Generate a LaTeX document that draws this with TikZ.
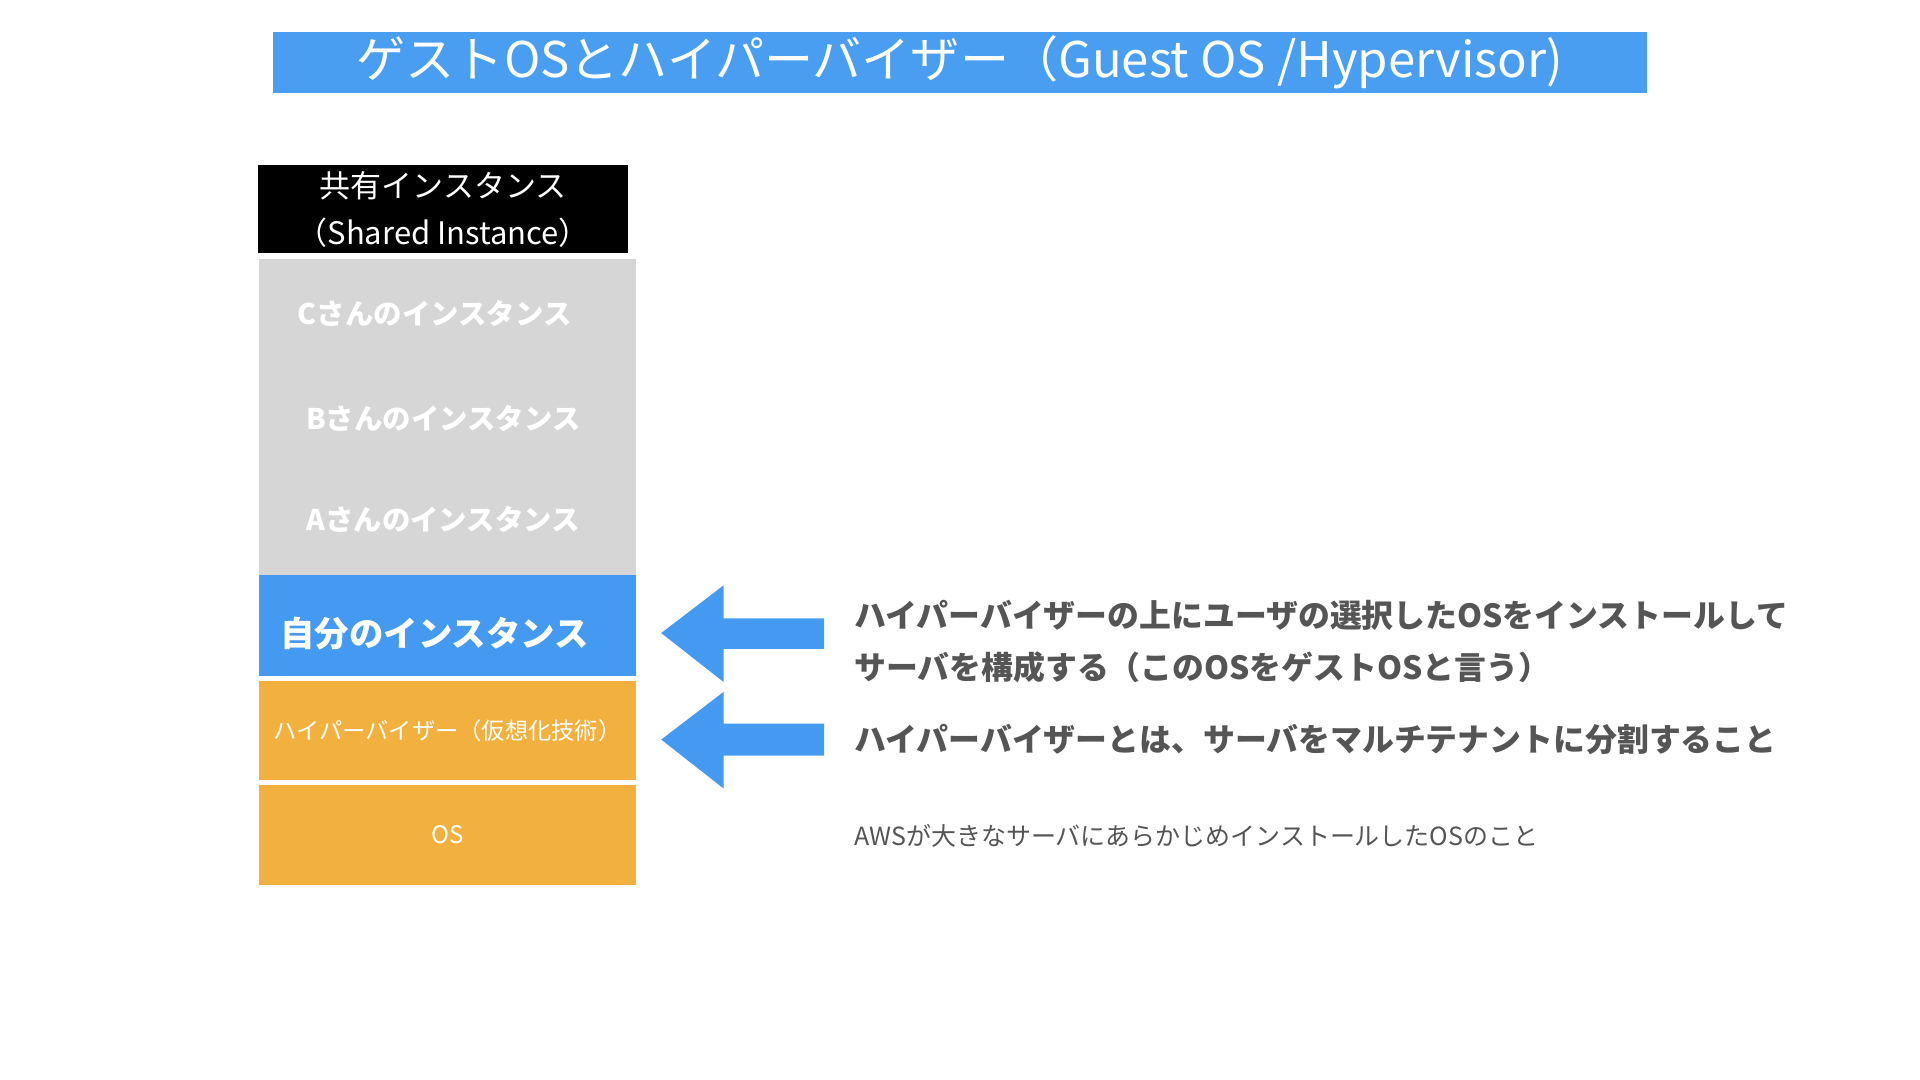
\documentclass[tikz,border=0pt]{standalone}
\usepackage{fontspec}
\setmainfont{Noto Sans CJK JP}
\newfontfamily\jpbold[BoldFont={* Bold}]{Noto Sans CJK JP}
\usepackage{xcolor}
\definecolor{titleblue}{HTML}{4A9EF2}
\definecolor{layerblue}{HTML}{4499F0}
\definecolor{layergray}{HTML}{D6D6D6}
\definecolor{layerorange}{HTML}{F2B13E}
\definecolor{notegray}{HTML}{555555}

\begin{document}
\begin{tikzpicture}[x=0.01cm, y=-0.01cm,
  layer/.style={rectangle, minimum width=3.07cm, inner sep=0pt, text=white},
  note/.style={anchor=west, text=notegray, inner sep=0pt, font=\fontsize{7.4}{10}\selectfont\bfseries},
  arrowfill/.style={fill=layerblue}]
\useasboundingbox (0,0) rectangle (1568,882);

\node (title) [rectangle, fill=titleblue, text=white, minimum width=11.22cm, minimum height=0.5cm, inner sep=0pt, font=\fontsize{11.4}{12}\selectfont] at (784,51) {ゲストOSとハイパーバイザー（Guest OS /Hypervisor)};

\node (shared) [rectangle, fill=black, text=white, minimum width=3.02cm, minimum height=0.72cm, inner sep=0pt, align=center, font=\fontsize{7.2}{11}\selectfont] at (362,171) {共有インスタンス\\（Shared Instance）};

\node (others) [layer, fill=layergray, minimum height=2.58cm] at (365.5,341) {};
\node (instc) [text=white, font=\fontsize{6.6}{8}\selectfont\bfseries] at (355,256) {Cさんのインスタンス};
\node (instb) [text=white, font=\fontsize{6.6}{8}\selectfont\bfseries] at (362,342) {Bさんのインスタンス};
\node (insta) [text=white, font=\fontsize{6.6}{8}\selectfont\bfseries] at (362,424) {Aさんのインスタンス};

\node (mine) [layer, fill=layerblue, minimum height=0.82cm] at (365.5,511) {};
\node (minetext) [text=white, font=\fontsize{8}{10}\selectfont\bfseries] at (355,517) {自分のインスタンス};

\node (hyper) [layer, fill=layerorange, minimum height=0.81cm, font=\fontsize{5.4}{7}\selectfont] at (365.5,596.5) {ハイパーバイザー（仮想化技術）};
\node (os) [layer, fill=layerorange, minimum height=0.82cm, font=\fontsize{5.6}{7}\selectfont] at (365.5,682) {OS};

% arrows
\fill[arrowfill] (540,517) -- (591,478) -- (591,505) -- (673,505) -- (673,530) -- (591,530) -- (591,557) -- cycle;
\fill[arrowfill] (540,604) -- (591,565) -- (591,591) -- (673,591) -- (673,617) -- (591,617) -- (591,644) -- cycle;

\node (guest1) [note] at (697,503) {ハイパーバイザーの上にユーザの選択したOSをインストールして};
\node (guest2) [note] at (697,545) {サーバを構成する（このOSをゲストOSと言う）};
\node (hypnote) [note] at (697,604) {ハイパーバイザーとは、サーバをマルチテナントに分割すること};
\node (osnote) [note, font=\fontsize{5.8}{8}\selectfont] at (697,683) {AWSが大きなサーバにあらかじめインストールしたOSのこと};
\end{tikzpicture}
\end{document}
